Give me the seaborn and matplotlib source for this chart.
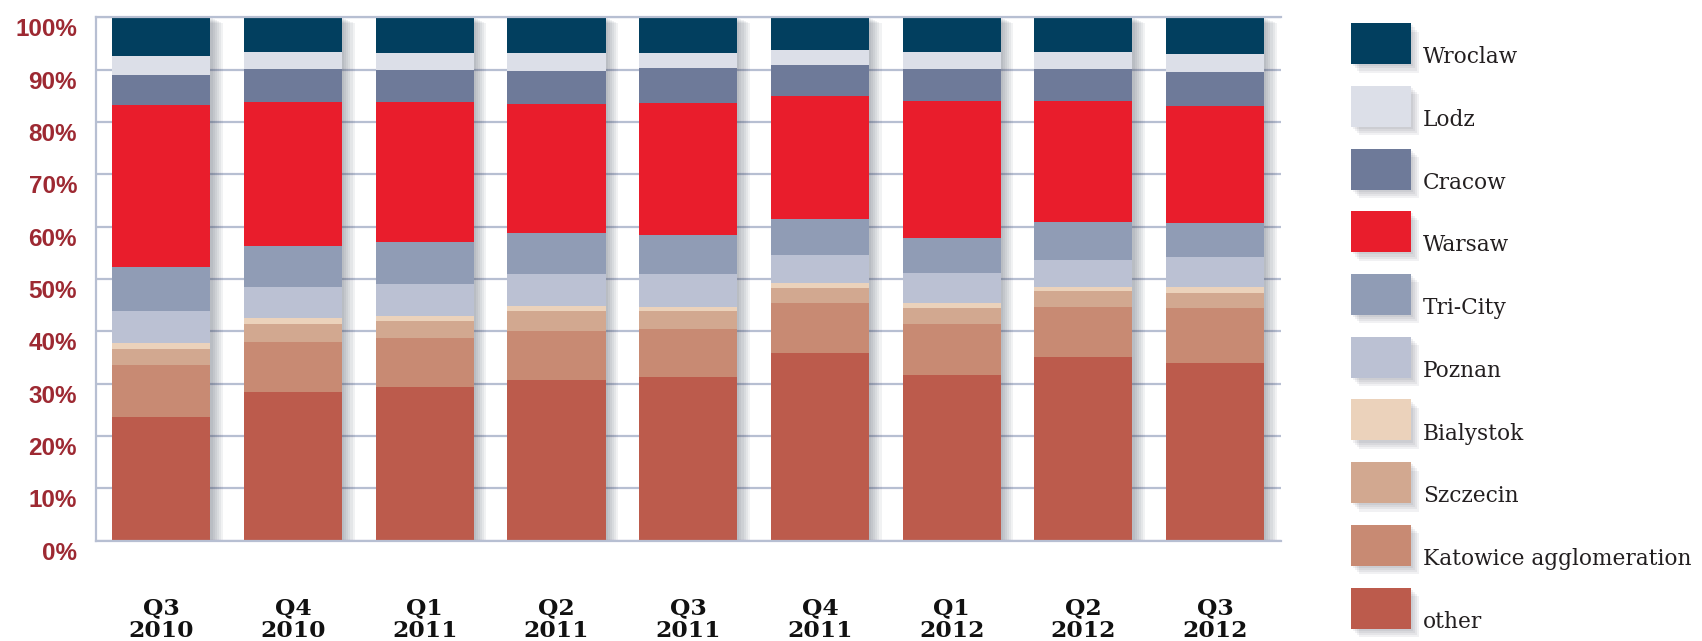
import numpy as np
import pandas as pd
import matplotlib
matplotlib.use("Agg")
import matplotlib.pyplot as plt
import seaborn as sns
from matplotlib import patheffects as pe
from matplotlib.patches import Rectangle
from matplotlib.legend_handler import HandlerPatch
from matplotlib.transforms import ScaledTranslation
from matplotlib import font_manager

# ---------------- data ----------------
quarters = ["Q3\n2010", "Q4\n2010", "Q1\n2011", "Q2\n2011", "Q3\n2011",
            "Q4\n2011", "Q1\n2012", "Q2\n2012", "Q3\n2012"]
# series listed bottom -> top of the stack
series_names = ["other", "Katowice agglomeration", "Szczecin", "Bialystok", "Poznan",
                "Tri-City", "Warsaw", "Cracow", "Lodz", "Wroclaw"]
other     = [23.6, 28.3, 29.3, 30.6, 31.2, 35.8, 31.6, 35.0, 34.0]
katowice  = [9.9, 9.6, 9.5, 9.4, 9.3, 9.5, 9.7, 9.7, 10.4]
szczecin  = [3.2, 3.5, 3.1, 3.8, 3.3, 2.9, 3.1, 3.0, 3.0]
bialystok = [1.0, 1.2, 1.1, 1.0, 0.9, 1.1, 0.9, 0.8, 1.1]
poznan    = [6.1, 5.8, 6.1, 6.2, 6.3, 5.2, 5.9, 5.2, 5.6]
tricity   = [8.4, 7.8, 7.9, 7.8, 7.3, 7.0, 6.7, 7.1, 6.5]
warsaw    = [31.0, 27.6, 26.8, 24.6, 25.3, 23.5, 26.1, 23.2, 22.4]
cracow    = [5.8, 6.3, 6.1, 6.3, 6.7, 5.9, 6.1, 6.1, 6.5]
lodz      = [3.6, 3.2, 3.2, 3.4, 2.8, 2.8, 3.2, 3.2, 3.4]
wroclaw   = [7.4, 6.7, 6.9, 6.9, 6.9, 6.3, 6.7, 6.7, 7.1]
yticks = list(range(0, 101, 10))
ytick_labels = [f"{v}%" for v in yticks]

series_values = [other, katowice, szczecin, bialystok, poznan,
                 tricity, warsaw, cracow, lodz, wroclaw]
colors = {
    "Wroclaw": "#023F5F",
    "Lodz": "#DCDFE8",
    "Cracow": "#6E7A99",
    "Warsaw": "#E91D2C",
    "Tri-City": "#909CB5",
    "Poznan": "#BBC1D3",
    "Bialystok": "#EBD2BB",
    "Szczecin": "#D2A890",
    "Katowice agglomeration": "#C88A73",
    "other": "#BC5B4C",
}

# long-form table with cumulative tops
rows = []
vals = np.array(series_values)
cum = np.cumsum(vals, axis=0)
for i, s in enumerate(series_names):
    for j, q in enumerate(quarters):
        rows.append({"quarter": q, "series": s, "value": vals[i, j], "top": cum[i, j]})
df = pd.DataFrame(rows)

# ---------------- fonts ----------------
available = {f.name for f in font_manager.fontManager.ttflist}
def pick(*names):
    for n in names:
        if n in available:
            return n
    return "DejaVu Sans"
xfont = pick("DejaVu Serif Condensed", "DejaVu Serif")
yfont = pick("Liberation Sans", "DejaVu Sans")
legend_font = pick("DejaVu Serif")

# ---------------- figure ----------------
sns.set_theme(style="white")
W, H = 1702, 641
fig = plt.figure(figsize=(W / 100, H / 100), dpi=100)
ax = fig.add_axes([95.5 / W, 1 - 540.6 / H, (1281 - 95.5) / W, (540.6 - 17.2) / H])

for k, s in enumerate(reversed(series_names)):
    sub = df[df["series"] == s]
    n_before = len(ax.patches)
    sns.barplot(data=sub, x="quarter", y="top", order=quarters, color=colors[s],
                saturation=1, width=0.745, errorbar=None, ax=ax,
                linewidth=0, edgecolor="none")
    if k == 0:
        shadow = [pe.SimplePatchShadow(offset=(o, -o * 0.45), shadow_rgbFace="#3a4256",
                                       alpha=0.065) for o in (1.5, 3, 4.5, 6, 7.5, 9)]
        for p in ax.patches[n_before:]:
            p.set_path_effects(shadow + [pe.Normal()])

ax.set_xlim(-0.5, 8.5)
ax.set_ylim(0, 100)
ax.set_yticks(yticks)
ax.set_yticklabels(ytick_labels)
ax.set_xlabel("")
ax.set_ylabel("")

grid_col = "#B7BFD2"
ax.set_axisbelow(True)
ax.yaxis.grid(True, color=grid_col, linewidth=1.6)
ax.xaxis.grid(False)
for side in ["left", "bottom", "top"]:
    ax.spines[side].set_visible(True)
    ax.spines[side].set_color(grid_col)
    ax.spines[side].set_linewidth(1.6)
ax.spines["right"].set_visible(False)

ax.tick_params(axis="y", length=0, pad=13.3, labelsize=17.5, labelcolor="#9D2932")
ax.tick_params(axis="x", length=0, pad=41, labelsize=16.8, labelcolor="#111111")
for lab in ax.get_yticklabels():
    lab.set_fontweight("bold")
    lab.set_family(yfont)
    lab.set_transform(lab.get_transform() + ScaledTranslation(0, -10 / 100, fig.dpi_scale_trans))
for lab in ax.get_xticklabels():
    lab.set_fontweight("bold")
    lab.set_family(xfont)
    lab.set_linespacing(1.02)

# ---------------- legend ----------------
fs = 15.6
fs_px = fs * 100 / 72
box_px = 41.0                      # swatch height in pixels
hh = (box_px / fs_px - 0.245) / 0.65
SHIFT_PX = 13.0
SHIFT = SHIFT_PX * 72 / 100        # points: raises the swatch relative to its label

def legend_patch(legend, orig_handle, xdescent, ydescent, width, height, fontsize):
    return Rectangle((-xdescent, -ydescent + SHIFT), width, height)

handles = []
for s in reversed(series_names):
    r = Rectangle((0, 0), 1, 1, facecolor=colors[s], edgecolor="none")
    r.set_path_effects([pe.SimplePatchShadow(offset=(o, -o), shadow_rgbFace="#3a4256",
                                             alpha=0.07) for o in (1.5, 3, 4.5, 6)] + [pe.Normal()])
    handles.append(r)
leg = fig.legend(handles, list(reversed(series_names)), loc="upper left",
                 bbox_to_anchor=(1351 / W, 1 - (23.3 + SHIFT_PX) / H), frameon=False,
                 borderpad=0, borderaxespad=0, handlelength=60 / fs_px, handleheight=hh,
                 labelspacing=(62.7 - box_px) / fs_px, handletextpad=12 / fs_px,
                 prop={"family": legend_font, "size": fs}, labelcolor="#231F20",
                 handler_map={Rectangle: HandlerPatch(patch_func=legend_patch)})

fig.savefig("out.png", dpi=100, facecolor="white")
